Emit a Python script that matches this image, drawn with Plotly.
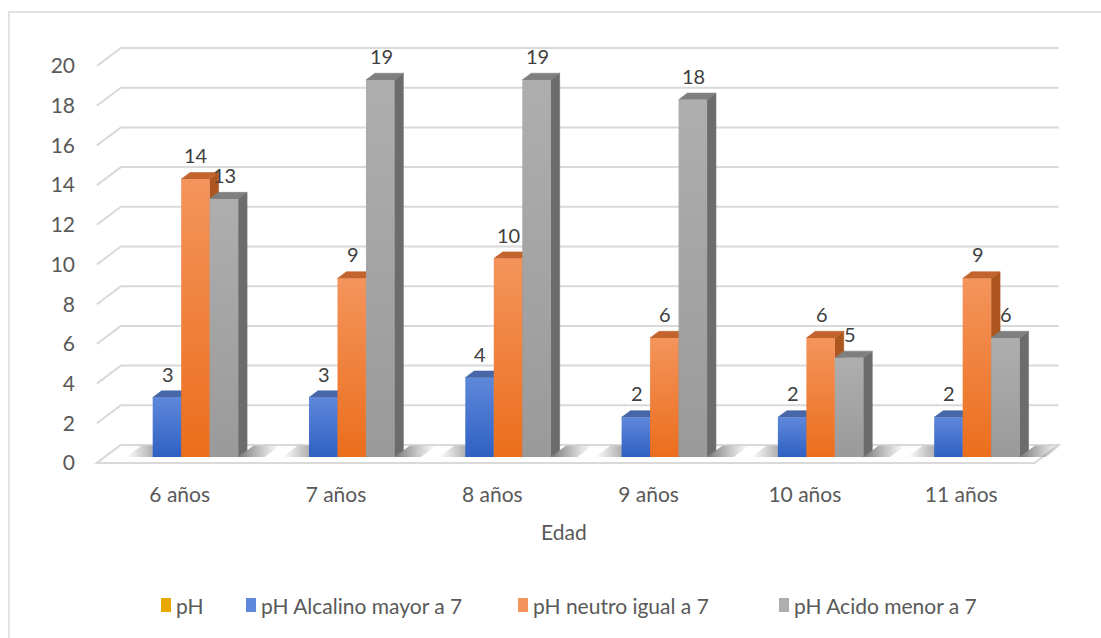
import plotly.graph_objects as go

# ---- data -------------------------------------------------------------
edades = ["6 años", "7 años", "8 años", "9 años", "10 años", "11 años"]
ph_alcalino = [3, 3, 4, 2, 2, 2]
ph_neutro = [14, 9, 10, 6, 6, 9]
ph_acido = [13, 19, 19, 18, 5, 6]
y_ticks = list(range(0, 21, 2))
legend_names = ["pH", "pH Alcalino mayor a 7", "pH neutro igual a 7", "pH Acido menor a 7"]

# ---- styling ----------------------------------------------------------
TEXT = "#595959"
LABEL = "#404040"
GRID = "#D9D9D9"
FONT = "Lato"

palette = {
    "pH": dict(top="#FFC72C", bottom="#E8A800", cap="#C79200", side="#B08000"),
    "pH Alcalino mayor a 7": dict(top="#5E88DA", bottom="#2F60C3", cap="#4767A8", side="#34589E"),
    "pH neutro igual a 7": dict(top="#F4945C", bottom="#EB6E1C", cap="#C3632D", side="#AE561F"),
    "pH Acido menor a 7": dict(top="#AEAEAE", bottom="#9A9A9A", cap="#7F7F7F", side="#6C6C6C"),
}
bar_series = [
    ("pH Alcalino mayor a 7", ph_alcalino),
    ("pH neutro igual a 7", ph_neutro),
    ("pH Acido menor a 7", ph_acido),
]

# oblique depth projection (full depth of the floor, in axis units)
DX, DY = 0.1536, 0.907
F, B = 0.33, 0.70          # bar front / back depth fractions
W = 0.1823                 # single bar width (category units)
G_OFF = 0.08               # group centre offset in the front plane
FLOOR_L, FLOOR_R = -0.5, 5.5


def at(x, v, d):
    return x + d * DX, v + d * DY


def poly(points):
    xs, ys = zip(*[at(*p) for p in points])
    return list(xs) + [xs[0]], list(ys) + [ys[0]]


fig = go.Figure()


def face(points, color=None, gradient=None):
    xs, ys = poly(points)
    kw = dict(x=xs, y=ys, mode="lines", fill="toself", hoverinfo="skip",
              showlegend=False, line=dict(width=0))
    if gradient is not None:
        kw["fillgradient"] = gradient
    else:
        kw["fillcolor"] = color
        kw["line"] = dict(width=0.6, color=color)
    fig.add_trace(go.Scatter(**kw))


# ---- back wall gridlines + floor -------------------------------------
shapes = []
for t in y_ticks:
    x0, y0 = at(FLOOR_L, t, 0)
    x1, y1 = at(FLOOR_L, t, 1)
    x2, y2 = at(FLOOR_R, t, 1)
    shapes.append(dict(type="path", xref="x", yref="y", layer="below",
                       path=f"M{x0},{y0} L{x1},{y1} L{x2},{y2}",
                       line=dict(color=GRID, width=2)))
fx, fy = poly([(FLOOR_L, 0, 0), (FLOOR_R, 0, 0), (FLOOR_R, 0, 1), (FLOOR_L, 0, 1)])
shapes.append(dict(type="path", xref="x", yref="y", layer="below",
                   path="M" + " L".join(f"{a},{b}" for a, b in zip(fx[:-1], fy[:-1])) + " Z",
                   line=dict(color=GRID, width=2), fillcolor="white"))

# ---- soft floor shadows around each group -----------------------------
for i in range(len(edades)):
    gl = i + G_OFF - 1.5 * W
    gr = i + G_OFF + 1.5 * W
    s = 0.17
    face([(gl - s, 0, F), (gl, 0, F), (gl, 0, 0.96), (gl - s, 0, 0.96)],
         gradient=dict(type="horizontal",
                       colorscale=[[0, "rgba(90,90,90,0)"], [1, "rgba(70,70,70,0.7)"]]))
    face([(gr, 0, F), (gr + s, 0, F), (gr + s, 0, 0.96), (gr, 0, 0.96)],
         gradient=dict(type="horizontal",
                       colorscale=[[0, "rgba(60,60,60,0.7)"], [1, "rgba(90,90,90,0)"]]))

# ---- 3-D bars ------------------------------------------------------------
annotations = []
for i in range(len(edades)):
    for k, (name, vals) in enumerate(bar_series):
        v = vals[i]
        c = palette[name]
        xl = i + G_OFF + (k - 1.5) * W
        xr = xl + W
        face([(xr, 0, F), (xr, 0, B), (xr, v, B), (xr, v, F)], color=c["side"])
        face([(xl, v, F), (xr, v, F), (xr, v, B), (xl, v, B)], color=c["cap"])
        face([(xl, 0, F), (xr, 0, F), (xr, v, F), (xl, v, F)],
             gradient=dict(type="vertical",
                           colorscale=[[0, c["bottom"]], [1, c["top"]]]))
        lx, ly = at(xl + W / 2, v, F)
        annotations.append(dict(x=lx + 0.006, y=ly, xref="x", yref="y", text=str(v),
                                showarrow=False, yanchor="bottom", yshift=10,
                                font=dict(family=FONT, size=20, color=LABEL)))

# ---- axis title ------------------------------------------------------------
annotations.append(dict(x=2.49, y=-0.114, xref="x", yref="paper", text="Edad",
                        showarrow=False, yanchor="middle",
                        font=dict(family=FONT, size=21, color=TEXT)))

# ---- legend (row of swatches below the plot) -------------------------------
PL, PW, PT, PH = 90, 980, 30, 450          # plot-area box in pixels


def px_x(p):
    return (p - PL) / PW


def px_y(p):
    return (PT + PH - p) / PH


legend_text_x = [174, 259, 531, 792]
for name, tx in zip(legend_names, legend_text_x):
    c = palette[name]
    shapes.append(dict(type="rect", xref="paper", yref="paper",
                       x0=px_x(tx - 13), x1=px_x(tx - 3),
                       y0=px_y(612), y1=px_y(598),
                       fillcolor=c["bottom"] if name == "pH" else c["top"],
                       line=dict(width=0)))
    annotations.append(dict(x=px_x(tx), y=px_y(605), xref="paper", yref="paper",
                            text=name, showarrow=False, xanchor="left", yanchor="middle",
                            font=dict(family=FONT, size=21, color=TEXT)))

# chart frame
shapes.append(dict(type="rect", xref="paper", yref="paper",
                   x0=px_x(9), x1=px_x(1110), y0=px_y(650), y1=px_y(12),
                   line=dict(color=GRID, width=1.5), fillcolor="rgba(0,0,0,0)",
                   layer="below"))

fig.update_layout(
    width=1101, height=638, autosize=False,
    margin=dict(l=PL, r=1101 - PL - PW, t=PT, b=638 - PT - PH),
    paper_bgcolor="white", plot_bgcolor="white",
    showlegend=False,
    shapes=shapes, annotations=annotations,
    xaxis=dict(range=[(PL - 175) / 156.3, (PL + PW - 175) / 156.3],
               tickvals=[i + 0.03 for i in range(len(edades))], ticktext=edades,
               showgrid=False, zeroline=False, showline=False, ticks="",
               ticklabelstandoff=0,
               tickfont=dict(family=FONT, size=21, color=TEXT), fixedrange=True),
    yaxis=dict(range=[(463 - PT - PH) / 19.85, (463 - PT) / 19.85],
               tickvals=y_ticks, ticktext=[str(t) for t in y_ticks],
               showgrid=False, zeroline=False, showline=False, ticks="",
               ticklabelstandoff=14,
               tickfont=dict(family=FONT, size=21, color=TEXT), fixedrange=True),
)

fig.write_html("out.html")
